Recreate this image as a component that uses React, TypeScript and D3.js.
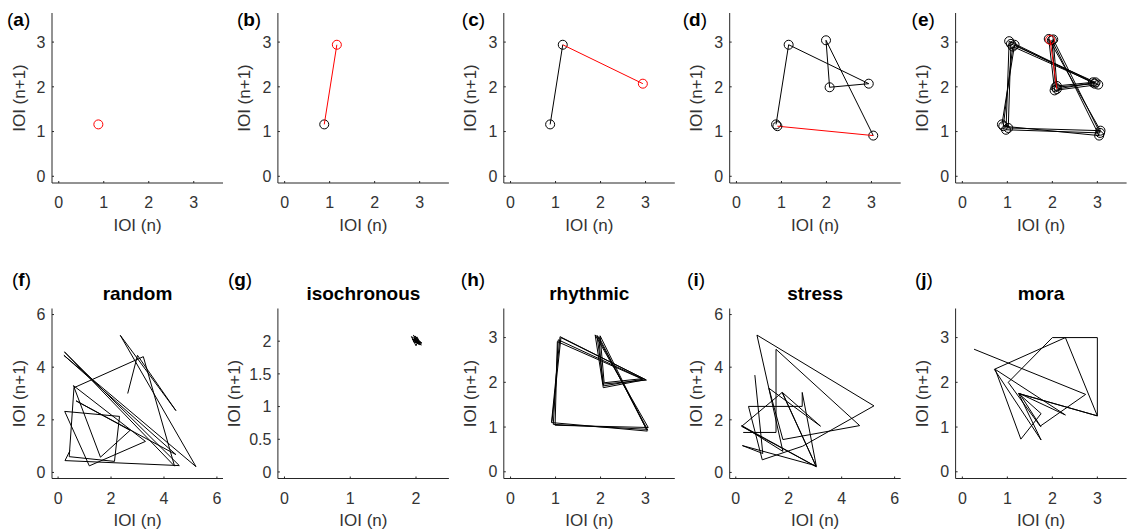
import React from "react";
import * as d3 from "d3";

// Inter-onset interval sequences (IOI, arbitrary units).
// Each panel plots successive pairs (IOI n, IOI n+1).
const buildUp = [0.88, 1.16, 2.94, 2.07, 1.99, 3.04, 0.91, 1.12];
const repeatedCycle = [
  0.88, 1.16, 2.94, 2.07, 1.99, 3.04,
  0.91, 1.12, 2.9, 2.1, 2.02, 3.06,
  0.97, 1.04, 3.02, 2.05, 1.92, 3.07,
  1.02, 1.08, 2.96, 2.1, 1.95, 3.05,
];
const randomSeq = [
  2.63, 3.0, 4.45, 2.35, 5.21, 0.22, 4.45, 0.68, 2.72, 1.6, 0.58, 3.3, 1.18,
  0.25, 2.32, 2.13, 0.42, 0.6, 3.22, 4.4, 0.24, 4.58, 0.26, 0.45, 0.83,
];
const isochronousSeq = [
  1.97, 2.05, 1.95, 2.02, 2.06, 1.96, 1.99, 2.08, 1.94, 2.03, 2.0, 1.93, 2.07,
  1.98, 2.04, 1.96, 2.09, 1.97, 2.01, 2.05, 1.95, 2.03, 1.99,
];
const rhythmicSeq = [
  0.92, 1.12, 3.0, 2.06, 1.88, 3.06, 0.99, 1.04, 2.91, 2.08, 1.99, 3.04, 0.91,
  1.1, 3.02, 2.05, 1.96, 3.02, 0.95, 1.06, 2.95, 2.07, 1.92, 3.05, 0.93,
];
const stressSeq = [
  0.28, 1.52, 1.52, 4.68, 1.78, 1.25, 3.2, 1.76, 3.04, 0.22, 1.75, 3.04, 0.22,
  1.78, 0.8, 5.22, 2.53, 1.0, 0.48, 2.51, 2.51, 3.04, 0.25, 1.02, 0.72, 3.7,
];
const moraSeq = [
  0.26, 2.74, 1.73, 1.02, 2.0, 3.0, 3.0, 1.25, 1.75, 0.71, 2.29, 3.0, 1.25,
  1.75, 1.3, 0.73, 2.29, 1.27, 1.75, 1.0,
];

// Tick values
const ticks0to3 = [0, 1, 2, 3];
const ticks0to6 = [0, 2, 4, 6];
const ticksIsoX = [0, 1, 2];
const ticksIsoY = [0, 0.5, 1, 1.5, 2];

// Axis limits
const lim3: [number, number] = [-0.15, 3.65];
const lim6: [number, number] = [-0.23, 6.23];
const limIso: [number, number] = [-0.1, 2.5];

const letters = ["a", "b", "c", "d", "e", "f", "g", "h", "i", "j"];
const titles = ["", "", "", "", "", "random", "isochronous", "rhythmic", "stress", "mora"];

type Panel = {
  seq: number[];
  lim: [number, number];
  xTicks: number[];
  yTicks: number[];
  markers: boolean;
  lastRed: boolean;
};

const panels: Panel[] = [
  { seq: buildUp.slice(0, 2), lim: lim3, xTicks: ticks0to3, yTicks: ticks0to3, markers: true, lastRed: true },
  { seq: buildUp.slice(0, 3), lim: lim3, xTicks: ticks0to3, yTicks: ticks0to3, markers: true, lastRed: true },
  { seq: buildUp.slice(0, 4), lim: lim3, xTicks: ticks0to3, yTicks: ticks0to3, markers: true, lastRed: true },
  { seq: buildUp, lim: lim3, xTicks: ticks0to3, yTicks: ticks0to3, markers: true, lastRed: false },
  { seq: repeatedCycle, lim: lim3, xTicks: ticks0to3, yTicks: ticks0to3, markers: true, lastRed: true },
  { seq: randomSeq, lim: lim6, xTicks: ticks0to6, yTicks: ticks0to6, markers: false, lastRed: false },
  { seq: isochronousSeq, lim: limIso, xTicks: ticksIsoX, yTicks: ticksIsoY, markers: false, lastRed: false },
  { seq: rhythmicSeq, lim: lim3, xTicks: ticks0to3, yTicks: ticks0to3, markers: false, lastRed: false },
  { seq: stressSeq, lim: lim6, xTicks: ticks0to6, yTicks: ticks0to6, markers: false, lastRed: false },
  { seq: moraSeq, lim: lim3, xTicks: ticks0to3, yTicks: ticks0to3, markers: false, lastRed: false },
];

// Layout
const W = 1127;
const H = 532;
const AX_LEFT = 52;
const COL_STEP = 225.9;
const AX_W = 171;
const AX_H = 170;
const ROW_TOP = [13, 308.5];
const LETTER_OFFSET = [45, 41, 42, 47, 44, 40, 50, 43, 42.6, 40.7];

const FONT = "'Liberation Sans', Arial, Helvetica, sans-serif";
const AXIS_COLOR = "#262626";
const TEXT_COLOR = "#333333";
const TICK_FONT = 16;
const LABEL_FONT = 17;
const TITLE_FONT = 19;
const LETTER_FONT = 19;
const RED = "#ff0000";

const returnMap = (s: number[]): [number, number][] =>
  s.slice(0, -1).map((v, i) => [v, s[i + 1]]);

const fmt = (v: number) => String(v);

function PanelView({ p, idx }: { p: Panel; idx: number }) {
  const col = idx % 5;
  const row = Math.floor(idx / 5);
  const left = AX_LEFT + col * COL_STEP;
  const top = ROW_TOP[row];
  const bottom = top + AX_H;
  const right = left + AX_W;
  const cx = (left + right) / 2;
  const cy = (top + bottom) / 2;

  const x = d3.scaleLinear().domain(p.lim).range([left, right]);
  const y = d3.scaleLinear().domain(p.lim).range([bottom, top]);
  const pts = returnMap(p.seq);
  const line = d3
    .line<[number, number]>()
    .x((d) => x(d[0]))
    .y((d) => y(d[1]));

  const maxChars = d3.max(p.yTicks.map((t) => fmt(t).length)) ?? 1;
  const yLabelX = left - (22.5 + maxChars * 5);

  const last = pts[pts.length - 1];
  const blackPts = p.markers ? pts.slice(0, -1) : pts;
  const blackPath = p.markers ? (pts.length > 2 ? line(pts.slice(0, -1)) : null) : line(pts);
  const redPath = p.markers && pts.length >= 2 ? line(pts.slice(-2)) : null;

  return (
    <g>
      {/* axes */}
      <line x1={left} x2={right} y1={bottom} y2={bottom} stroke={AXIS_COLOR} strokeWidth={1} />
      <line x1={left} x2={left} y1={top} y2={bottom} stroke={AXIS_COLOR} strokeWidth={1} />
      {p.xTicks.map((t) => (
        <g key={"x" + t}>
          <line x1={x(t)} x2={x(t)} y1={bottom} y2={bottom - 2} stroke={AXIS_COLOR} strokeWidth={1} />
          <text x={x(t)} y={bottom + 25} textAnchor="middle" fontSize={TICK_FONT} fill={TEXT_COLOR}>
            {fmt(t)}
          </text>
        </g>
      ))}
      {p.yTicks.map((t) => (
        <g key={"y" + t}>
          <line x1={left} x2={left + 2} y1={y(t)} y2={y(t)} stroke={AXIS_COLOR} strokeWidth={1} />
          <text x={left - 6.5} y={y(t) + 5.7} textAnchor="end" fontSize={TICK_FONT} fill={TEXT_COLOR}>
            {fmt(t)}
          </text>
        </g>
      ))}
      <text x={cx} y={bottom + 47.5} textAnchor="middle" fontSize={LABEL_FONT} fill={TEXT_COLOR}>
        IOI (n)
      </text>
      <text
        transform={`translate(${yLabelX},${cy}) rotate(-90)`}
        textAnchor="middle"
        fontSize={LABEL_FONT}
        fill={TEXT_COLOR}
      >
        IOI (n+1)
      </text>
      {titles[idx] && (
        <text x={cx} y={top - 8.5} textAnchor="middle" fontSize={TITLE_FONT} fontWeight="bold" fill="#000">
          {titles[idx]}
        </text>
      )}
      <text x={left - LETTER_OFFSET[idx]} y={row === 0 ? 26 : 286} fontSize={LETTER_FONT} fill="#000">
        (<tspan fontWeight="bold">{letters[idx]}</tspan>)
      </text>

      {/* trajectory */}
      {blackPath && <path d={blackPath} fill="none" stroke="#000" strokeWidth={1} />}
      {p.markers &&
        blackPts.map((d, i) => (
          <circle key={"c" + i} cx={x(d[0])} cy={y(d[1])} r={4.5} fill="none" stroke="#000" strokeWidth={1} />
        ))}
      {redPath && <path d={redPath} fill="none" stroke={RED} strokeWidth={1} />}
      {p.markers && (
        <circle
          cx={x(last[0])}
          cy={y(last[1])}
          r={4.5}
          fill="none"
          stroke={p.lastRed ? RED : "#000"}
          strokeWidth={1}
        />
      )}
    </g>
  );
}

export default function App() {
  return (
    <svg
      width={W}
      height={H}
      style={{ position: "absolute", left: 0, top: 0, background: "#fff" }}
      fontFamily={FONT}
    >
      <rect width={W} height={H} fill="#fff" />
      {panels.map((p, i) => (
        <PanelView key={letters[i]} p={p} idx={i} />
      ))}
    </svg>
  );
}
